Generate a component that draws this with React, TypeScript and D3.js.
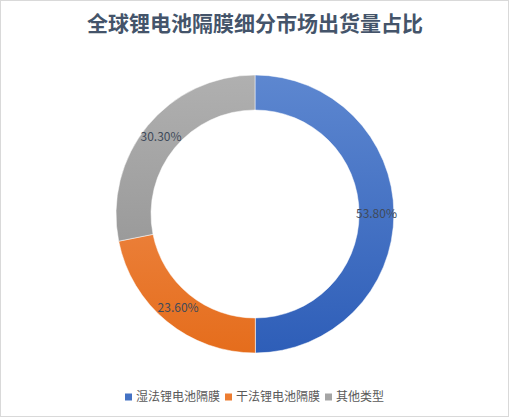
import React from 'react';
import * as d3 from 'd3';

const categories = ['湿法锂电池隔膜', '干法锂电池隔膜', '其他类型'];
const shares = [53.8, 23.6, 30.3];
const labels = ['53.80%', '23.60%', '30.30%'];
const gradients = [
  ['#5d87d0', '#2e5eb8'],
  ['#f2955c', '#e56d1c'],
  ['#b0b0b0', '#8c8c8c'],
];
const legendColors = ['#4472c4', '#ed7d31', '#a5a5a5'];

const W = 510;
const H = 418;
const cx = 255;
const cy = 214;
const outerR = 139;
const innerR = 104;

const App: React.FC = () => {
  const pie = d3.pie<number>().sort(null).value(d => d);
  const arcs = pie(shares);
  const arc = d3.arc<d3.PieArcDatum<number>>().innerRadius(innerR).outerRadius(outerR);

  // legend layout: square + text per item
  const legendX = [125, 225, 325];

  return (
    <svg
      width={W}
      height={H}
      style={{ position: 'absolute', left: 0, top: 0, fontFamily: '"Noto Sans CJK SC", "Noto Sans", sans-serif' }}
    >
      <defs>
        {gradients.map((g, i) => (
          <linearGradient key={i} id={`grad${i}`} gradientUnits="userSpaceOnUse"
            x1={0} y1={-outerR} x2={0} y2={outerR}>
            <stop offset="0%" stopColor={g[0]} />
            <stop offset="100%" stopColor={g[1]} />
          </linearGradient>
        ))}
      </defs>
      <rect x={0.5} y={0.5} width={W - 2} height={H - 2} fill="#fff" stroke="#d9d9d9" />
      <text x={cx} y={31} textAnchor="middle" fontSize={21} fontWeight="bold" fill="#44546a">
        全球锂电池隔膜细分市场出货量占比
      </text>
      <g transform={`translate(${cx},${cy})`}>
        {arcs.map((a, i) => (
          <path key={i} d={arc(a) ?? ''} fill={`url(#grad${i})`} stroke="#fff" strokeWidth={0.5} />
        ))}
        {arcs.map((a, i) => {
          const [lx, ly] = arc.centroid(a);
          return (
            <text key={i} x={lx} y={ly} dy="0.35em" textAnchor="middle" fontSize={12} fill="#404a5a">
              {labels[i]}
            </text>
          );
        })}
      </g>
      {categories.map((c, i) => (
        <g key={c} transform={`translate(${legendX[i]},397)`}>
          <rect x={0} y={-3.5} width={7} height={7} fill={legendColors[i]} />
          <text x={11} y={0} dy="0.35em" fontSize={12} fill="#595959">{c}</text>
        </g>
      ))}
    </svg>
  );
};

export default App;
